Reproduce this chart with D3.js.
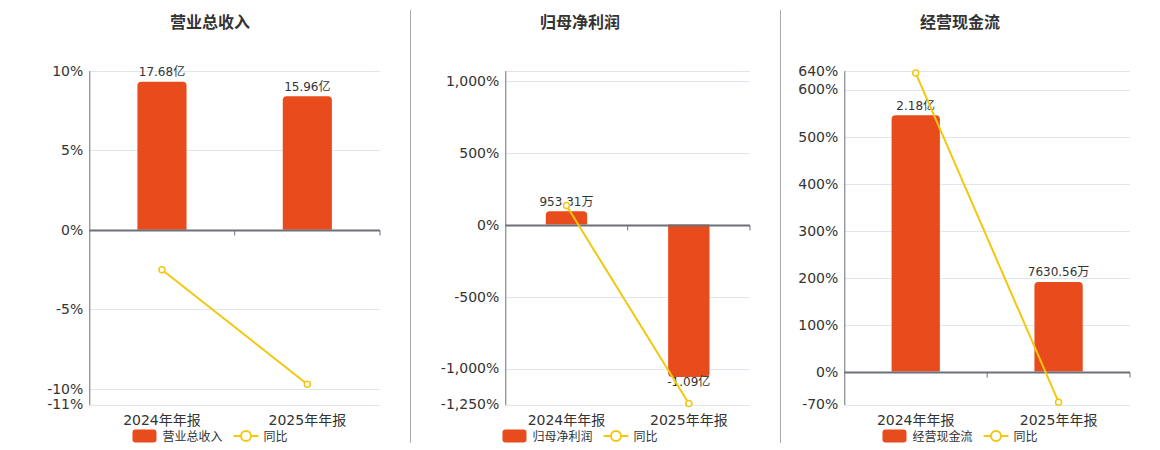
<!DOCTYPE html>
<html>
<head>
<meta charset="utf-8">
<script src="https://cdn.jsdelivr.net/npm/d3@7"></script>
<style>
  html, body { margin: 0; padding: 0; background: #fff; }
  svg { display: block; font-family: "DejaVu Sans", "Noto Sans CJK SC", sans-serif; }
</style>
</head>
<body>
<svg id="chart" width="1160" height="450"></svg>
<script>
// ---- data ----
const categories = ["2024年年报", "2025年年报"];
const titles = ["营业总收入", "归母净利润", "经营现金流"];
const legendNames = ["营业总收入", "归母净利润", "经营现金流"];
const yoyName = "同比";

// bar values in 亿 (100 million)
const revenueValues = [17.68, 15.96];
const revenueLabels = ["17.68亿", "15.96亿"];
const profitValues = [0.095331, -1.09];
const profitLabels = ["953.31万", "-1.09亿"];
const cashValues = [2.18, 0.763056];
const cashLabels = ["2.18亿", "7630.56万"];

// year-over-year, percent
const revenueYoy = [-2.52, -9.73];
const profitYoy = [132, -1243];
const cashYoy = [635, -65];

// left axis ticks (percent)
const revenueTicks = [10, 5, 0, -5, -10, -11];
const profitTicks = [1069, 1000, 500, 0, -500, -1000, -1250];
const cashTicks = [640, 600, 500, 400, 300, 200, 100, 0, -70];
const profitTickLabels = [null, "1,000%", "500%", "0%", "-500%", "-1,000%", "-1,250%"];

// axis extents
const revenuePctDomain = [-11, 10];
const profitPctDomain = [-1250, 1069];
const cashPctDomain = [-70, 640];
const revenueBarDomain = [-20.9, 19];
const profitBarDomain = [-1.2865, 1.1];
const cashBarDomain = [-0.28, 2.56];

// ---- layout ----
const BAR_COLOR = "#E84B1C";
const LINE_COLOR = "#F2C80F";
const GRID = "#E0E6F1";
const AXIS = "#6E7079";
const TEXT = "#333";

const panels = [
  { cx: 210, left: 89.3, right: 380, values: revenueValues, labels: revenueLabels, yoy: revenueYoy,
    ticks: revenueTicks, tickLabels: revenueTicks.map(t => t + "%"), pct: revenuePctDomain, bar: revenueBarDomain },
  { cx: 580, left: 505.3, right: 750, values: profitValues, labels: profitLabels, yoy: profitYoy,
    ticks: profitTicks, tickLabels: profitTickLabels, pct: profitPctDomain, bar: profitBarDomain },
  { cx: 960, left: 844.3, right: 1130, values: cashValues, labels: cashLabels, yoy: cashYoy,
    ticks: cashTicks, tickLabels: cashTicks.map(t => t + "%"), pct: cashPctDomain, bar: cashBarDomain }
];
const TOP = 70.7, BOTTOM = 404.5;

const svg = d3.select("#chart");

// separators
[410.5, 780.5].forEach(x => {
  svg.append("line").attr("x1", x).attr("x2", x).attr("y1", 10).attr("y2", 443)
    .attr("stroke", "#aaa").attr("stroke-width", 1);
});

function barPath(x, w, y0, y1, r) {
  // rounded at the end away from zero
  const h = Math.abs(y1 - y0);
  r = Math.min(r, h / 2, w / 2);
  if (y1 < y0) {
    return `M${x},${y0}V${y1 + r}Q${x},${y1} ${x + r},${y1}H${x + w - r}Q${x + w},${y1} ${x + w},${y1 + r}V${y0}Z`;
  } else {
    return `M${x},${y0}V${y1 - r}Q${x},${y1} ${x + r},${y1}H${x + w - r}Q${x + w},${y1} ${x + w},${y1 - r}V${y0}Z`;
  }
}

panels.forEach((p, i) => {
  const g = svg.append("g");
  const x = d3.scaleBand().domain(categories).range([p.left, p.right]).padding(0);
  const y = d3.scaleLinear().domain(p.pct).range([BOTTOM, TOP]);
  const yb = d3.scaleLinear().domain(p.bar).range([BOTTOM, TOP]);

  // title
  g.append("text").attr("x", p.cx).attr("y", 28).attr("text-anchor", "middle")
    .attr("font-size", 16).attr("font-weight", "bold").attr("fill", TEXT).text(titles[i]);

  // grid lines
  g.selectAll(".grid").data(p.ticks).enter().append("line")
    .attr("x1", p.left).attr("x2", p.right)
    .attr("y1", d => Math.round(y(d)) + 0.5).attr("y2", d => Math.round(y(d)) + 0.5)
    .attr("stroke", GRID).attr("stroke-width", 1);

  // y axis
  const yAxis = d3.axisLeft(y).tickValues(p.ticks).tickSize(0).tickPadding(6)
    .tickFormat((d, k) => p.tickLabels[k] == null ? "" : p.tickLabels[k]);
  const ya = g.append("g").attr("transform", `translate(${p.left},0)`).call(yAxis);
  ya.select(".domain").attr("stroke", AXIS);
  ya.selectAll("text").attr("font-size", 14).attr("fill", TEXT)
    .attr("font-family", "'DejaVu Sans', sans-serif");

  // bars
  const bw = x.bandwidth() * 0.338;
  const y0 = yb(0);
  g.selectAll(".bar").data(p.values).enter().append("path")
    .attr("d", (d, k) => barPath(x(categories[k]) + (x.bandwidth() - bw) / 2, bw, y0, yb(d), 4))
    .attr("fill", BAR_COLOR);

  // bar labels
  g.selectAll(".blab").data(p.values).enter().append("text")
    .attr("x", (d, k) => x(categories[k]) + x.bandwidth() / 2)
    .attr("y", d => d >= 0 ? yb(d) - 5.5 : yb(d) + 9)
    .attr("text-anchor", "middle").attr("font-size", 12).attr("fill", TEXT)
    .text((d, k) => p.labels[k]);

  // x axis at zero
  const xAxis = d3.axisBottom(x).tickSize(0).tickPadding(0).tickFormat(() => "");
  const zy = Math.round(y(0)) + 0.5;
  g.append("line").attr("x1", p.left).attr("x2", p.right).attr("y1", zy).attr("y2", zy)
    .attr("stroke", AXIS).attr("stroke-width", 2);
  // boundary ticks
  const bounds = [x(categories[1]), p.right];
  g.selectAll(".xt").data(bounds).enter().append("line")
    .attr("x1", d => d).attr("x2", d => d).attr("y1", zy).attr("y2", zy + 5)
    .attr("stroke", AXIS).attr("stroke-width", 1);

  // x labels at the bottom
  g.selectAll(".xl").data(categories).enter().append("text")
    .attr("x", d => x(d) + x.bandwidth() / 2).attr("y", 425)
    .attr("text-anchor", "middle").attr("font-size", 14).attr("fill", TEXT).text(d => d);

  // yoy line
  const line = d3.line().x((d, k) => x(categories[k]) + x.bandwidth() / 2).y(d => y(d));
  g.append("path").datum(p.yoy).attr("d", line).attr("fill", "none")
    .attr("stroke", LINE_COLOR).attr("stroke-width", 2);
  g.selectAll(".pt").data(p.yoy).enter().append("circle")
    .attr("cx", (d, k) => x(categories[k]) + x.bandwidth() / 2).attr("cy", d => y(d))
    .attr("r", 3).attr("fill", "#fff").attr("stroke", LINE_COLOR).attr("stroke-width", 1.5);

  // legend
  const lg = g.append("g");
  const ly = 436;
  const r1 = lg.append("rect").attr("width", 24).attr("height", 13).attr("rx", 3).attr("y", ly - 6.5)
    .attr("fill", BAR_COLOR);
  const t1 = lg.append("text").attr("y", ly + 4.5).attr("font-size", 12).attr("fill", TEXT).text(legendNames[i]);
  const ln = lg.append("line").attr("y1", ly).attr("y2", ly).attr("stroke", LINE_COLOR).attr("stroke-width", 2);
  const lc = lg.append("circle").attr("cy", ly).attr("r", 5).attr("fill", "#fff")
    .attr("stroke", LINE_COLOR).attr("stroke-width", 2);
  const t2 = lg.append("text").attr("y", ly + 4.5).attr("font-size", 12).attr("fill", TEXT).text(yoyName);
  const w1 = t1.node().getComputedTextLength();
  const w2 = t2.node().getComputedTextLength();
  const total = 24 + 6 + w1 + 11 + 25 + 5 + w2;
  let cx = p.cx - total / 2;
  r1.attr("x", cx); cx += 24 + 6;
  t1.attr("x", cx); cx += w1 + 11;
  ln.attr("x1", cx).attr("x2", cx + 25); lc.attr("cx", cx + 12.5); cx += 25 + 5;
  t2.attr("x", cx);
});
</script>
</body>
</html>
